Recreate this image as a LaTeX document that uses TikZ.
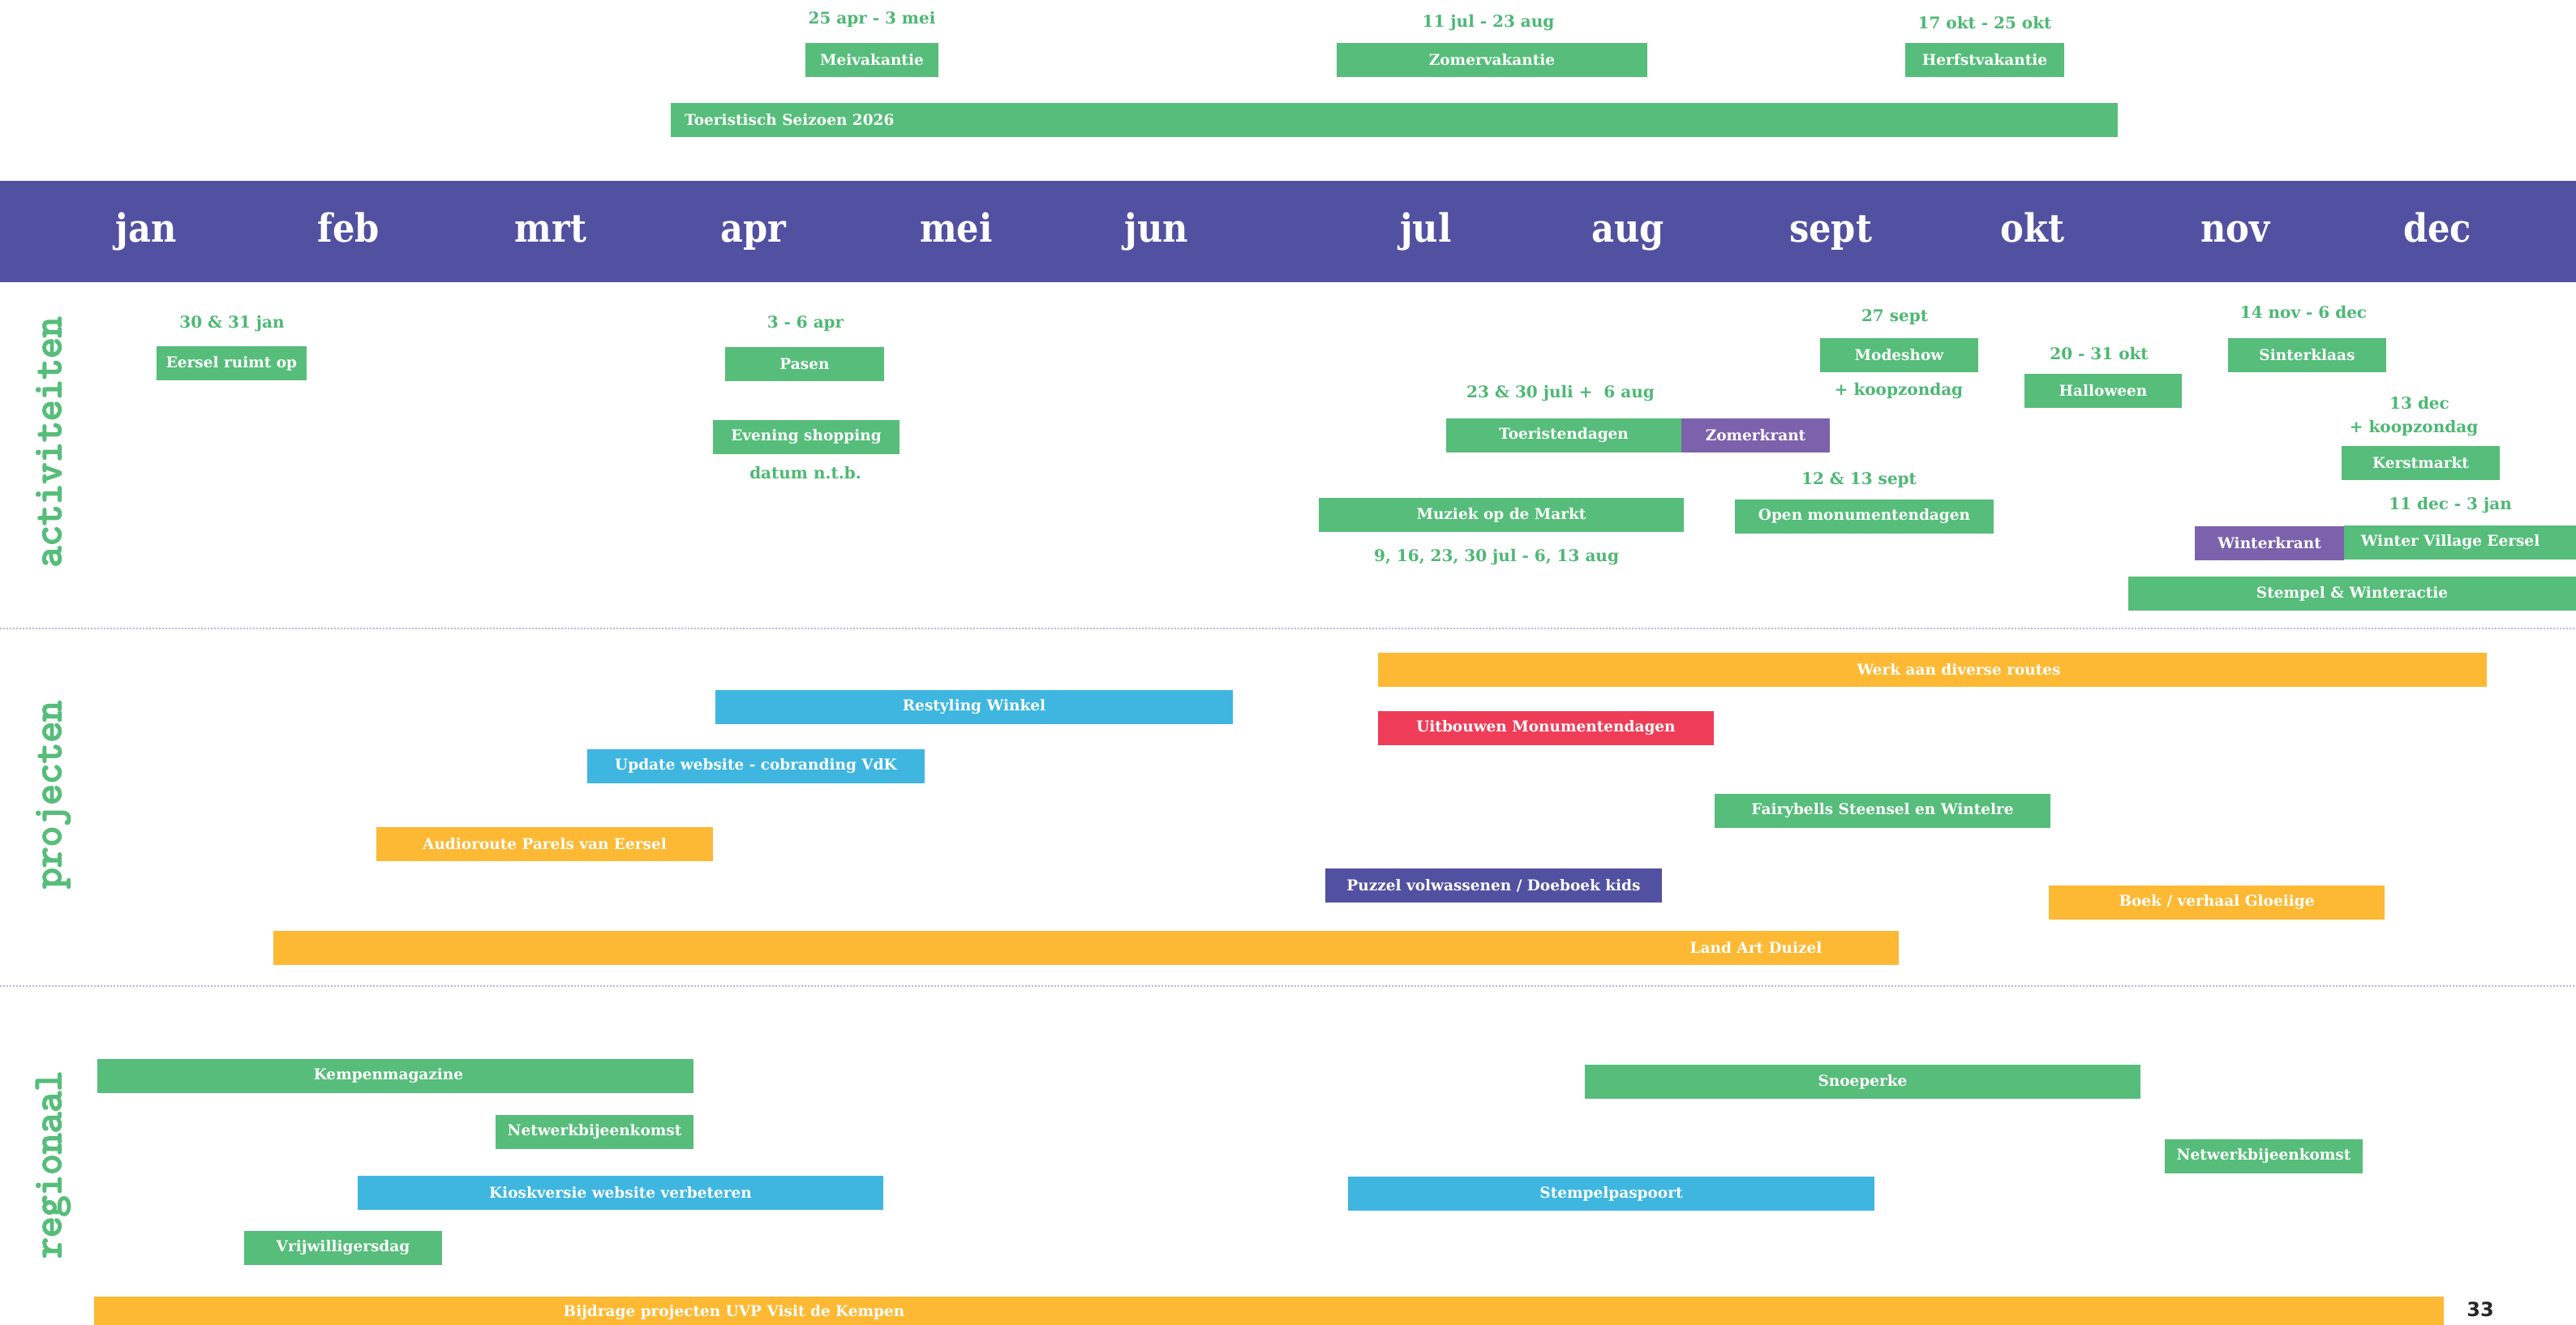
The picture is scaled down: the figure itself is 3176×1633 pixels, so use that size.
\documentclass[tikz,border=0pt]{standalone}
\usepackage{fontspec}
\setmainfont{DejaVu Serif}
\newfontfamily\maandfont{DejaVu Serif}[FakeStretch=0.9]
\newfontfamily\paginafont{DejaVu Sans}
\newfontfamily\rubriekfont{Latin Modern Mono}[FakeBold=4]

\definecolor{groen}{HTML}{56BD7A}
\definecolor{datumgroen}{HTML}{4DB874}
\definecolor{paars}{HTML}{5251A1}
\definecolor{lila}{HTML}{7C62AC}
\definecolor{blauw}{HTML}{3EB6E0}
\definecolor{oranje}{HTML}{FDB933}
\definecolor{rood}{HTML}{EF3D58}
\definecolor{stippel}{HTML}{B9B6DA}

\begin{document}
\begin{tikzpicture}[x=1pt, y=-1pt]
  \tikzstyle{balk}=[inner sep=0pt, minimum height=42pt, text=white, font=\fontsize{18.5}{20}\selectfont\bfseries]
  \tikzstyle{datum}=[text=datumgroen, font=\fontsize{20}{22}\selectfont\bfseries]
  \tikzstyle{maand}=[text=white, anchor=base, font=\maandfont\fontsize{48}{50}\selectfont\bfseries]
  \tikzstyle{rubriek}=[text=groen, rotate=90, anchor=base, font=\rubriekfont\fontsize{50}{52}\selectfont]
  \tikzstyle{lijn}=[stippel, line width=2pt, dash pattern=on 1.5pt off 2.5pt]

  \useasboundingbox (0,0) rectangle (3176,1633);
  \fill[white] (0,0) rectangle (3176,1633);

  % vakanties
  \node[datum] (d1) at (1075, 24) {25 apr - 3 mei};
  \node[balk, fill=groen, minimum width=164] (mei) at (1075, 74) {Meivakantie};
  \node[datum] (d2) at (1835, 28) {11 jul - 23 aug};
  \node[balk, fill=groen, minimum width=383] (zomer) at (1839.5, 74) {Zomervakantie};
  \node[datum] (d3) at (2447, 28) {17 okt - 25 okt};
  \node[balk, fill=groen, minimum width=196] (herfst) at (2447, 74) {Herfstvakantie};
  \node[balk, fill=groen, minimum width=1784] (seizoen) at (1719, 148) {};
  \node[balk, anchor=west] (seizoent) at (844, 148) {Toeristisch Seizoen 2026};

  % maanden
  \node[fill=paars, minimum width=3176, minimum height=125, inner sep=0pt] (band) at (1588, 285.5) {};
  \node[maand] (jan)  at (180, 298)  {jan};
  \node[maand] (feb)  at (430, 298)  {feb};
  \node[maand] (mrt)  at (679, 298)  {mrt};
  \node[maand] (apr)  at (929, 298)  {apr};
  \node[maand] (mei)  at (1179, 298) {mei};
  \node[maand] (jun)  at (1426, 298) {jun};
  \node[maand] (jul)  at (1758, 298) {jul};
  \node[maand] (aug)  at (2007, 298) {aug};
  \node[maand] (sep)  at (2257, 298) {sept};
  \node[maand] (okt)  at (2506, 298) {okt};
  \node[maand] (nov)  at (2756, 298) {nov};
  \node[maand] (dec)  at (3005, 298) {dec};

  % activiteiten
  \node[rubriek] (act) at (75, 545) {activiteiten};
  \node[datum] (d4) at (286, 399) {30 \& 31 jan};
  \node[balk, fill=groen, minimum width=185] (eersel) at (285.5, 448) {Eersel ruimt op};
  \node[datum] (d5) at (993, 399) {3 - 6 apr};
  \node[balk, fill=groen, minimum width=196] (pasen) at (992, 449) {Pasen};
  \node[balk, fill=groen, minimum width=230] (evening) at (994, 539) {Evening shopping};
  \node[datum] (d6) at (993, 583) {datum n.t.b.};
  \node[datum] (d7) at (2336, 391) {27 sept};
  \node[balk, fill=groen, minimum width=195] (mode) at (2341.5, 438) {Modeshow};
  \node[datum] (d8) at (2341, 482) {+ koopzondag};
  \node[datum] (d9) at (2588, 436) {20 - 31 okt};
  \node[balk, fill=groen, minimum width=194] (hallo) at (2593, 482) {Halloween};
  \node[datum] (d10) at (2840, 385) {14 nov - 6 dec};
  \node[balk, fill=groen, minimum width=195] (sint) at (2844.5, 438) {Sinterklaas};
  \node[datum] (d11) at (1924, 485) {23 \& 30 juli +\ \ 6 aug};
  \node[balk, fill=groen, minimum width=290] (toer) at (1928, 537) {Toeristendagen};
  \node[balk, fill=lila, minimum width=183] (zkrant) at (2164.5, 537) {Zomerkrant};
  \node[datum] (d12) at (2983, 497) {13 dec};
  \node[datum] (d13) at (2976, 528) {+ koopzondag};
  \node[balk, fill=groen, minimum width=195] (kerst) at (2984.5, 571) {Kerstmarkt};
  \node[datum] (d14) at (2292, 592) {12 \& 13 sept};
  \node[balk, fill=groen, minimum width=450] (muziek) at (1851, 635) {Muziek op de Markt};
  \node[balk, fill=groen, minimum width=319] (omd) at (2298.5, 637) {Open monumentendagen};
  \node[datum] (d15) at (1845, 687) {9, 16, 23, 30 jul - 6, 13 aug};
  \node[datum] (d16) at (3021, 623) {11 dec - 3 jan};
  \node[balk, fill=lila, minimum width=184] (wkrant) at (2798, 670) {Winterkrant};
  \node[balk, fill=groen, minimum width=286] (village) at (3033, 669) {};
  \node[balk] (villaget) at (3021, 669) {Winter Village Eersel};
  \node[balk, fill=groen, minimum width=552] (stempelw) at (2900, 732) {Stempel \& Winteractie};

  \draw[lijn] (0, 775) -- (3176, 775);

  % projecten
  \node[rubriek] (proj) at (75, 980) {projecten};
  \node[balk, fill=oranje, minimum width=1367] (werk) at (2382.5, 826) {};
  \node[balk] (werkt) at (2415, 826) {Werk aan diverse routes};
  \node[balk, fill=blauw, minimum width=638] (restyling) at (1201, 872) {Restyling Winkel};
  \node[balk, fill=rood, minimum width=414] (uitbouw) at (1906, 898) {Uitbouwen Monumentendagen};
  \node[balk, fill=blauw, minimum width=416] (update) at (932, 945) {Update website - cobranding VdK};
  \node[balk, fill=groen, minimum width=414] (fairy) at (2321, 1000) {Fairybells Steensel en Wintelre};
  \node[balk, fill=oranje, minimum width=415] (audio) at (671.5, 1041) {Audioroute Parels van Eersel};
  \node[balk, fill=paars, minimum width=415] (puzzel) at (1841.5, 1092) {Puzzel volwassenen / Doeboek kids};
  \node[balk, fill=oranje, minimum width=414] (boek) at (2733, 1113) {Boek / verhaal Gloeiige};
  \node[balk, fill=oranje, minimum width=2004] (landart) at (1339, 1169) {};
  \node[balk] (landartt) at (2165, 1169) {Land Art Duizel};

  \draw[lijn] (0, 1216) -- (3176, 1216);

  % regionaal
  \node[rubriek] (regio) at (75, 1436) {regionaal};
  \node[balk, fill=groen, minimum width=735] (kempen) at (487.5, 1327) {};
  \node[balk] (kempent) at (479, 1327) {Kempenmagazine};
  \node[balk, fill=groen, minimum width=685] (snoep) at (2296.5, 1334) {Snoeperke};
  \node[balk, fill=groen, minimum width=244] (netwerk1) at (733, 1396) {Netwerkbijeenkomst};
  \node[balk, fill=groen, minimum width=244] (netwerk2) at (2791, 1426) {Netwerkbijeenkomst};
  \node[balk, fill=blauw, minimum width=648] (kiosk) at (765, 1471) {Kioskversie website verbeteren};
  \node[balk, fill=blauw, minimum width=649] (stempelp) at (1986.5, 1472) {Stempelpaspoort};
  \node[balk, fill=groen, minimum width=244] (vrijw) at (423, 1539) {Vrijwilligersdag};
  \node[balk, fill=oranje, minimum width=2897] (bijdrage) at (1564.5, 1620) {};
  \node[balk] (bijdraget) at (905, 1619) {Bijdrage projecten UVP Visit de Kempen};

  \node[text=black!85, font=\paginafont\fontsize{24}{26}\selectfont\bfseries] (pagina) at (3058, 1615) {33};
\end{tikzpicture}
\end{document}
